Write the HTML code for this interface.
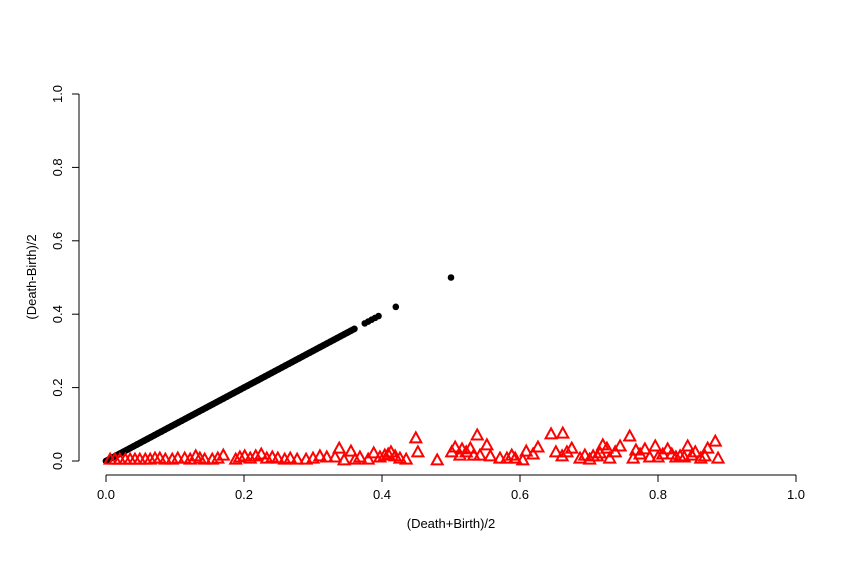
<!DOCTYPE html>
<html><head><meta charset="utf-8"><style>
body{margin:0;background:#fff;}
text{font-family:"Liberation Sans",sans-serif;font-size:13px;fill:#000;}
</style></head><body>
<svg id="chart" width="865" height="574" xmlns="http://www.w3.org/2000/svg"></svg>
<script>
const xTicks=[0,0.2,0.4,0.6,0.8,1.0];
const xTickLabels=["0.0","0.2","0.4","0.6","0.8","1.0"];
const yTicks=[0,0.2,0.4,0.6,0.8,1.0];
const yTickLabels=["0.0","0.2","0.4","0.6","0.8","1.0"];
const blackX=[0,0.005,0.01,0.015,0.02,0.025,0.03,0.035,0.04,0.045,0.05,0.055,0.06,0.065,0.07,0.075,0.08,0.085,0.09,0.095,0.1,0.105,0.11,0.115,0.12,0.125,0.13,0.135,0.14,0.145,0.15,0.155,0.16,0.165,0.17,0.175,0.18,0.185,0.19,0.195,0.2,0.205,0.21,0.215,0.22,0.225,0.23,0.235,0.24,0.245,0.25,0.255,0.26,0.265,0.27,0.275,0.28,0.285,0.29,0.295,0.3,0.305,0.31,0.315,0.32,0.325,0.33,0.335,0.34,0.345,0.35,0.355,0.36,0.375,0.38,0.385,0.39,0.395,0.42,0.5];
const blackY=[0,0.005,0.01,0.015,0.02,0.025,0.03,0.035,0.04,0.045,0.05,0.055,0.06,0.065,0.07,0.075,0.08,0.085,0.09,0.095,0.1,0.105,0.11,0.115,0.12,0.125,0.13,0.135,0.14,0.145,0.15,0.155,0.16,0.165,0.17,0.175,0.18,0.185,0.19,0.195,0.2,0.205,0.21,0.215,0.22,0.225,0.23,0.235,0.24,0.245,0.25,0.255,0.26,0.265,0.27,0.275,0.28,0.285,0.29,0.295,0.3,0.305,0.31,0.315,0.32,0.325,0.33,0.335,0.34,0.345,0.35,0.355,0.36,0.375,0.38,0.385,0.39,0.395,0.42,0.5];
const redX=[.006,.013,.020,.028,.035,.042,.049,.057,.064,.071,.078,.086,.096,.104,.114,.122,.130,.136,.143,.154,.162,.170,.188,.194,.201,.209,.217,.225,.233,.241,.249,.259,.267,.277,.290,.300,.310,.320,.332,.338,.345,.355,.361,.368,.380,.388,.397,.404,.409,.413,.419,.426,.435,.449,.452,.480,.501,.506,.513,.516,.522,.528,.533,.538,.542,.552,.557,.571,.581,.588,.593,.604,.609,.619,.626,.645,.652,.661,.662,.668,.675,.687,.694,.701,.706,.712,.716,.720,.726,.730,.738,.745,.759,.764,.768,.774,.781,.788,.796,.800,.807,.814,.820,.826,.832,.838,.843,.849,.854,.862,.868,.872,.883,.887];
const redY=[.005,.005,.005,.005,.005,.005,.005,.005,.005,.008,.008,.005,.005,.008,.008,.005,.014,.008,.005,.005,.008,.016,.005,.011,.014,.008,.014,.019,.008,.011,.008,.005,.008,.005,.005,.008,.014,.011,.011,.035,.003,.027,.005,.011,.005,.022,.011,.016,.019,.025,.014,.008,.005,.063,.025,.003,.025,.038,.016,.033,.025,.035,.016,.071,.016,.044,.014,.008,.008,.016,.008,.003,.027,.019,.038,.074,.025,.014,.076,.025,.035,.008,.016,.005,.014,.014,.022,.044,.035,.008,.025,.041,.068,.008,.030,.019,.033,.011,.041,.011,.019,.033,.019,.011,.014,.011,.041,.016,.025,.008,.014,.035,.054,.008];
const svg=document.getElementById('chart');
const NS='http://www.w3.org/2000/svg';
const X0=106,X1=796,Y0=461,Y1=94;
function sx(v){return X0+(X1-X0)*v;}
function sy(v){return Y0-(Y0-Y1)*v;}
function mk(t,a){const e=document.createElementNS(NS,t);for(const k in a)e.setAttribute(k,a[k]);svg.appendChild(e);return e;}
let e;
e=mk('line',{x1:X0,y1:475,x2:X1,y2:475,stroke:'#000'});


e=mk('line',{x1:79,y1:Y1,x2:79,y2:Y0,stroke:'#000'});


xTicks.forEach((v,i)=>{
 e=mk('line',{x1:sx(v),y1:475,x2:sx(v),y2:482,stroke:'#000'});
 
 
 e=mk('text',{x:sx(v),y:499,'text-anchor':'middle'});e.textContent=xTickLabels[i];
 
 
});
yTicks.forEach((v,i)=>{
 e=mk('line',{x1:72,y1:sy(v),x2:79,y2:sy(v),stroke:'#000'});
 
 
 e=mk('text',{x:0,y:0,'text-anchor':'middle',transform:`translate(62,${sy(v)}) rotate(-90)`});e.textContent=yTickLabels[i];
 
 
});
e=mk('text',{x:451,y:528,'text-anchor':'middle'});e.textContent='(Death+Birth)/2';


e=mk('text',{x:0,y:0,'text-anchor':'middle',transform:'translate(36,277) rotate(-90)'});e.textContent='(Death-Birth)/2';


e=mk('line',{x1:sx(blackX[0]),y1:sy(blackY[0]),x2:sx(blackX[72]),y2:sy(blackY[72]),stroke:'#000','stroke-width':6.5,'stroke-linecap':'round'});


blackX.forEach((v,i)=>{
 e=mk('circle',{cx:sx(v),cy:sy(blackY[i]),r:3.3,fill:'#000'});
 
 
});
redX.forEach((v,i)=>{
 const cx=sx(v),cy=sy(redY[i]);
 e=mk('polygon',{points:`${cx},${cy-5.5} ${cx-5.5},${cy+4.5} ${cx+5.5},${cy+4.5}`,fill:'none',stroke:'#f00','stroke-width':2});
 
 
});
</script>
</body></html>
